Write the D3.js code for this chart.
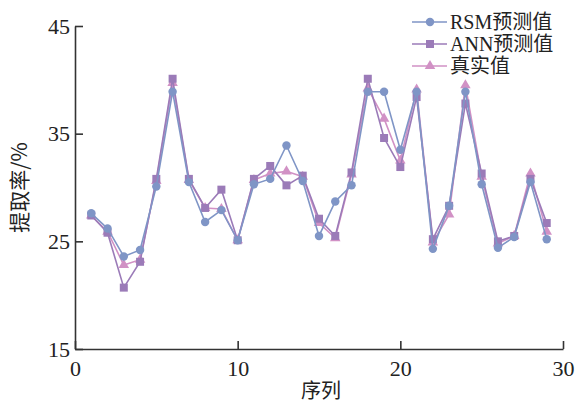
<!DOCTYPE html>
<html>
<head>
<meta charset="utf-8">
<script src="https://cdn.jsdelivr.net/npm/d3@7"></script>
<style>
  html, body { margin: 0; padding: 0; background: #fff; }
  svg { display: block; }
</style>
</head>
<body>
<svg id="chart" width="576" height="406"></svg>
<script>
// Sample index 1..29
const seq = d3.range(1, 30);

// Extraction rate (%) per sample
const rsmPred = [27.6, 26.2, 23.6, 24.2, 30.1, 38.9, 30.5, 26.8, 27.9, 25.1,
                 30.3, 30.8, 33.9, 30.6, 25.5, 28.7, 30.2, 38.9, 38.9, 33.5,
                 38.9, 24.3, 28.3, 38.9, 30.3, 24.4, 25.4, 30.5, 25.2];
const annPred = [27.4, 25.8, 20.7, 23.1, 30.8, 40.1, 30.8, 28.1, 29.8, 25.1,
                 30.8, 32.0, 30.2, 31.1, 27.1, 25.5, 31.4, 40.1, 34.6, 31.9,
                 38.4, 25.2, 28.3, 37.8, 31.3, 25.0, 25.5, 30.8, 26.7];
const actual  = [27.4, 25.9, 22.8, 23.3, 30.6, 39.7, 30.7, 28.1, 28.0, 25.1,
                 30.7, 31.3, 31.5, 31.0, 26.7, 25.3, 31.2, 39.2, 36.4, 32.5,
                 39.1, 24.9, 27.5, 39.5, 31.0, 24.8, 25.5, 31.3, 25.9];

const xTicks = [0, 10, 20, 30];
const yTicks = [15, 25, 35, 45];

const seriesNames = ["RSM预测值", "ANN预测值", "真实值"];
const colors = { rsm: "#7f95c6", ann: "#9b7bb8", act: "#d191c5" };

const serif = "'Liberation Serif', 'DejaVu Serif', serif";
const cjk = "'Noto Sans CJK SC', sans-serif";

const svg = d3.select("#chart");
const mLeft = 75, mRight = 563, mTop = 26, mBottom = 349;

const x = d3.scaleLinear().domain([0, 30]).range([mLeft, mRight]);
const y = d3.scaleLinear().domain([15, 45]).range([mBottom, mTop]);

const axisColor = "#333";

// Axes (ticks point inward)
const gx = svg.append("g").attr("transform", `translate(0,${mBottom})`)
  .call(d3.axisBottom(x).tickValues(xTicks).tickSize(-8).tickPadding(12).tickSizeOuter(0));
const gy = svg.append("g").attr("transform", `translate(${mLeft},0)`)
  .call(d3.axisLeft(y).tickValues(yTicks).tickSize(-8).tickPadding(6).tickSizeOuter(0));
[gx, gy].forEach(g => {
  g.attr("font-family", null);
  g.select(".domain").attr("stroke", axisColor).attr("stroke-width", 1.6);
  g.selectAll(".tick line").attr("stroke", axisColor).attr("stroke-width", 1.6);
  g.selectAll(".tick text").attr("fill", "#222")
    .style("font-family", serif).style("font-size", "22px");
});
gx.selectAll(".tick text").attr("y", 11).attr("dy", "0.71em");
gy.selectAll(".tick text").attr("x", -5);

// Axis titles
svg.append("text")
  .attr("x", (mLeft + mRight) / 2 + 2).attr("y", 398)
  .attr("text-anchor", "middle")
  .style("font-family", cjk).style("font-size", "20px")
  .attr("fill", "#222")
  .text("序列");
svg.append("text")
  .attr("transform", `translate(27,${(mTop + mBottom) / 2}) rotate(-90)`)
  .attr("text-anchor", "middle")
  .style("font-family", cjk).style("font-size", "21px")
  .attr("fill", "#222")
  .text("提取率/%");

const line = d3.line().x((d, i) => x(seq[i])).y(d => y(d));

function drawSeries(values, color, shape, size) {
  const g = svg.append("g");
  g.append("path").datum(values)
    .attr("d", line).attr("fill", "none")
    .attr("stroke", color).attr("stroke-width", 1.6);
  const sym = d3.symbol().type(shape).size(size);
  g.selectAll("path.m").data(values).enter().append("path")
    .attr("class", "m")
    .attr("d", sym)
    .attr("transform", (d, i) => `translate(${x(seq[i])},${y(d)})`)
    .attr("fill", color);
}

drawSeries(actual, colors.act, d3.symbolTriangle, 48);
drawSeries(annPred, colors.ann, d3.symbolSquare, 64);
drawSeries(rsmPred, colors.rsm, d3.symbolCircle, 56);

// Legend
const legendItems = [
  { name: seriesNames[0], color: colors.rsm, shape: d3.symbolCircle, size: 56 },
  { name: seriesNames[1], color: colors.ann, shape: d3.symbolSquare, size: 64 },
  { name: seriesNames[2], color: colors.act, shape: d3.symbolTriangle, size: 48 }
];
const lg = svg.append("g");
legendItems.forEach((it, i) => {
  const ly = 22 + i * 22;
  lg.append("line").attr("x1", 412).attr("x2", 447).attr("y1", ly).attr("y2", ly)
    .attr("stroke", it.color).attr("stroke-width", 1.6);
  lg.append("path").attr("d", d3.symbol().type(it.shape).size(it.size))
    .attr("transform", `translate(430,${ly})`).attr("fill", it.color);
  lg.append("text").attr("x", 450).attr("y", ly + 7)
    .style("font-family", "'Liberation Serif', 'Noto Sans CJK SC', serif")
    .style("font-size", "20px")
    .attr("fill", "#222")
    .text(it.name);
});
</script>
</body>
</html>
